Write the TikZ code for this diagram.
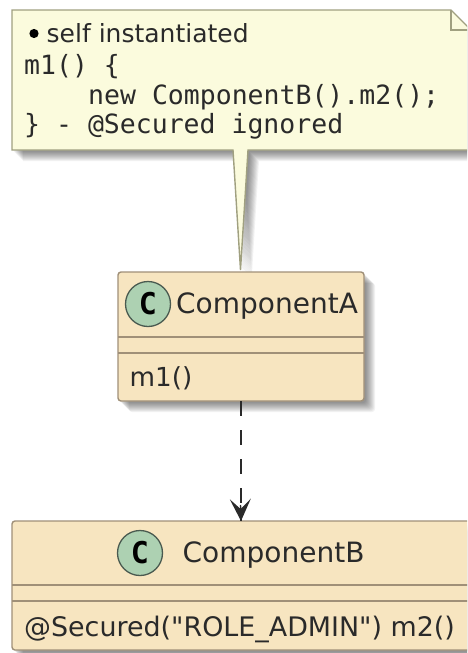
\documentclass[tikz,border=0pt]{standalone}
\usepackage{fontspec}
\setmainfont{DejaVu Sans}
\newfontfamily\labelfont{DejaVu Sans}
\newfontfamily\codefont{DejaVu Sans Mono}
\usetikzlibrary{arrows.meta,calc}
\definecolor{notefill}{HTML}{FBFBDD}
\definecolor{noteline}{HTML}{A0A080}
\definecolor{classfill}{HTML}{F7E5C0}
\definecolor{classline}{HTML}{A09078}
\definecolor{spotfill}{HTML}{ADD1B2}
\definecolor{spotline}{HTML}{4A5A50}
\definecolor{inkdark}{HTML}{2A2A2A}
\newcommand{\lblsize}[1]{\fontsize{#1}{30}\selectfont\labelfont}
\tikzset{
  x=1pt,y=-1pt,
  classbox/.style={draw=classline,fill=classfill,line width=1.4pt,rounded corners=3pt,inner sep=0pt,outer sep=0pt,anchor=north west},
  spot/.style={circle,draw=spotline,fill=spotfill,line width=1.3pt,minimum size=45pt,inner sep=0pt,font=\fontsize{30}{30}\selectfont\codefont\bfseries,text=black},
  classtext/.style={text=inkdark,inner sep=0pt,anchor=base west},
  codetext/.style={font=\fontsize{26.5}{30}\selectfont\codefont,text=inkdark,inner sep=0pt,anchor=base west},
  sep/.style={draw=classline,line width=1.4pt},
  link/.style={draw=inkdark,line width=1.4pt},
}
\newcommand{\softshadow}[1]{%
  \foreach \d in {2,3,...,11}{
    \fill[black,opacity=.05,shift={(\d pt,-\d pt)}] #1;
  }%
}
\begin{document}
\begin{tikzpicture}
\clip (0,0) rectangle (467,653);
\fill[white] (0,0) rectangle (467,653);
% shadows
\softshadow{(12,10) -- (451,10) -- (490,49) -- (490,150) -- (248,150) -- (240.5,270) -- (233,150) -- (12,150) -- cycle}
\softshadow{[rounded corners=3pt] (118,272) rectangle (364,401)}
\softshadow{[rounded corners=3pt] (12,521) rectangle (490,650)}
% note
\draw[fill=notefill,draw=noteline,line width=1.4pt,line join=miter]
  (12,10) -- (451,10) -- (490,49) -- (490,150) -- (248,150) -- (240.5,270) -- (233,150) -- (12,150) -- cycle;
\draw[draw=noteline,line width=1.4pt] (451,10) -- (451,30) -- (471,30);
\fill[black] (34,33.5) circle (4.6pt);
\node[classtext,font=\lblsize{25}] (noteA) at (46.5,42.5) {self instantiated};
\node[codetext] (noteB) at (24,74) {m1() \{};
\node[codetext] (noteC) at (88,104) {new ComponentB().m2();};
\node[codetext] (noteD) at (24,133.5) {\} - @Secured ignored};
% class A
\node[classbox,minimum width=246pt,minimum height=129pt] (A) at (118,272) {};
\draw[sep] (118,337) -- (364,337) (118,353) -- (364,353);
\node[spot] (spotA) at (148,304) {C};
\node[classtext,font=\lblsize{28}] (nameA) at (176,313) {ComponentA};
\node[classtext,font=\lblsize{26.2}] (m1) at (129.5,386) {m1()};
% class B
\node[classbox,minimum width=478pt,minimum height=129pt] (B) at (12,521) {};
\draw[sep] (12,585) -- (480,585) (12,601) -- (480,601);
\node[spot] (spotB) at (140,553) {C};
\node[classtext,font=\lblsize{28}] (nameB) at (182.5,562) {ComponentB};
\node[classtext,font=\lblsize{26.9}] (m2) at (24,636) {@Secured("ROLE\_ADMIN") m2()};
% connector
\draw[link,dash pattern=on 14.5pt off 14.5pt] (A.south) -- (A.south |- B.north);
\draw[link,-{Stealth[inset=10pt,length=22pt,width=21pt]}] (240.5,505) -- (A.south |- B.north);
\end{tikzpicture}
\end{document}
